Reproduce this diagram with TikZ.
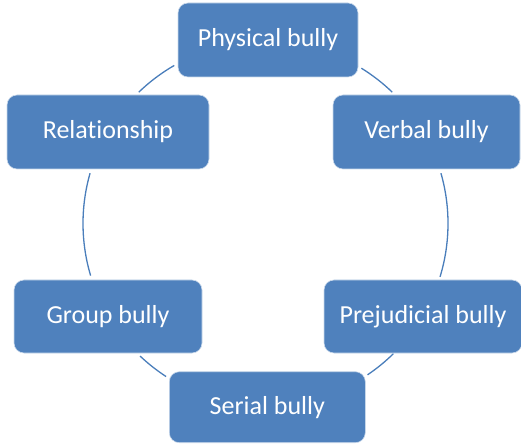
\documentclass[tikz,border=0pt]{standalone}
\usepackage{fontspec}
\setmainfont{Carlito}[Ligatures=NoCommon]
\usetikzlibrary{calc}
\definecolor{boxblue}{HTML}{4F81BD}
\definecolor{arcblue}{HTML}{4A7EBB}
\begin{document}
\begin{tikzpicture}[x=1pt,y=1pt,
  box/.style={fill=boxblue, draw=white!70!boxblue, line width=0.6pt, rounded corners=10pt,
    text=white, font=\fontsize{26}{30}\selectfont, inner sep=0pt, align=center},
  ring/.style={draw=arcblue, line width=1.3pt}]
\useasboundingbox (0,0) rectangle (521,444);
\coordinate (O) at (265.5,220.5);
\def\R{182.5pt}
% arcs
\coordinate (a1) at ($(O)+(120:\R)$);
\coordinate (a2) at ($(O)+(164:\R)$);
\coordinate (a3) at ($(O)+(226.6:\R)$);
\coordinate (a4) at ($(O)+(304:\R)$);
\coordinate (a5) at ($(O)+(343:\R)$);
\coordinate (a6) at ($(O)+(46:\R)$);
\draw[ring] (a1) arc[start angle=120, end angle=134, radius=\R];
\draw[ring] (a2) arc[start angle=164, end angle=196.6, radius=\R];
\draw[ring] (a3) arc[start angle=226.6, end angle=237, radius=\R];
\draw[ring] (a4) arc[start angle=304, end angle=314.5, radius=\R];
\draw[ring] (a5) arc[start angle=343, end angle=376, radius=\R];
\draw[ring] (a6) arc[start angle=46, end angle=58.3, radius=\R];
% boxes
\node[box, minimum width=180pt, minimum height=74pt] (phys) at (268,404) {Physical bully};
\node[box, minimum width=187pt, minimum height=74pt] (verb) at (426.5,312) {Verbal bully};
\node[box, minimum width=198pt, minimum height=73pt] (prej) at (423,127.5) {Prejudicial bully};
\node[box, minimum width=196pt, minimum height=71pt] (seri) at (267.3,36.8) {Serial bully};
\node[box, minimum width=188pt, minimum height=73pt] (grp) at (108,127.5) {Group bully};
\node[box, minimum width=202pt, minimum height=74pt] (rel) at (108,312) {Relationship};
\end{tikzpicture}
\end{document}
